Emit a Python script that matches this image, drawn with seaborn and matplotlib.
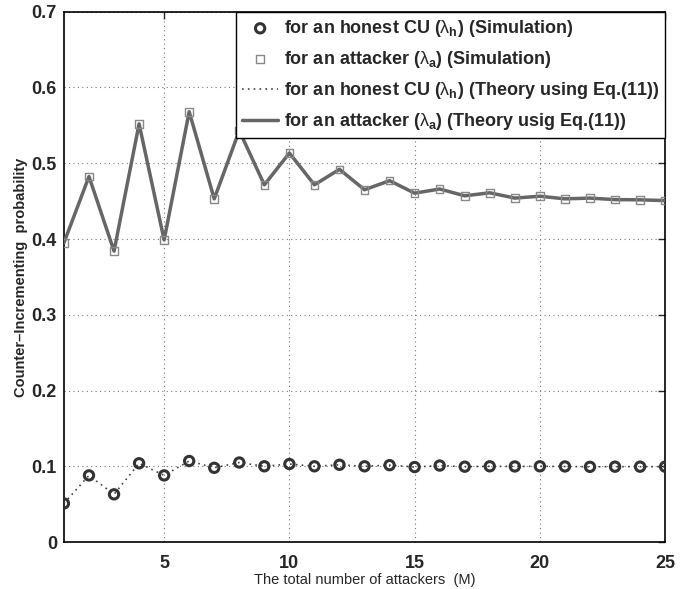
import numpy as np
import pandas as pd
import matplotlib
matplotlib.use("Agg")
import matplotlib.pyplot as plt
import seaborn as sns

# Data
M = list(range(1, 26))
attacker_sim = [0.395, 0.4825, 0.384, 0.552, 0.3987, 0.568, 0.453, 0.543, 0.4715, 0.5135,
                0.4715, 0.492, 0.465, 0.477, 0.4605, 0.466, 0.457, 0.461, 0.454, 0.4565,
                0.453, 0.454, 0.452, 0.4517, 0.4507]
attacker_theory = [0.395, 0.4825, 0.384, 0.552, 0.3987, 0.568, 0.453, 0.543, 0.4715, 0.5135,
                   0.4715, 0.492, 0.465, 0.477, 0.4605, 0.466, 0.457, 0.461, 0.454, 0.4565,
                   0.453, 0.454, 0.452, 0.4517, 0.4507]
honest_sim = [0.051, 0.088, 0.063, 0.104, 0.088, 0.107, 0.098, 0.105, 0.100, 0.103,
              0.100, 0.102, 0.100, 0.1015, 0.099, 0.101, 0.0995, 0.100, 0.0998, 0.100,
              0.0998, 0.0993, 0.0995, 0.0995, 0.0995]
honest_theory = [0.051, 0.088, 0.063, 0.104, 0.088, 0.107, 0.098, 0.105, 0.100, 0.103,
                 0.100, 0.102, 0.100, 0.1015, 0.099, 0.101, 0.0995, 0.100, 0.0998, 0.100,
                 0.0998, 0.0993, 0.0995, 0.0995, 0.0995]
xticks = [5, 10, 15, 20, 25]
yticks = [0, 0.1, 0.2, 0.3, 0.4, 0.5, 0.6, 0.7]
yticklabels = ["0", "0.1", "0.2", "0.3", "0.4", "0.5", "0.6", "0.7"]

labels = [r"for an honest CU ($\lambda_{\mathbf{h}}$) (Simulation)",
          r"for an attacker ($\lambda_{\mathbf{a}}$) (Simulation)",
          r"for an honest CU ($\lambda_{\mathbf{h}}$) (Theory using Eq.(11))",
          r"for an attacker ($\lambda_{\mathbf{a}}$) (Theory usig Eq.(11))"]

sns.set_style("white")
plt.rcParams["font.family"] = ["Liberation Sans", "DejaVu Sans"]
plt.rcParams["mathtext.fontset"] = "custom"
plt.rcParams["mathtext.rm"] = "Liberation Sans"
plt.rcParams["mathtext.bf"] = "Liberation Sans:bold"
plt.rcParams["mathtext.it"] = "Liberation Sans"

df = pd.DataFrame({"M": M, "att_sim": attacker_sim, "att_th": attacker_theory,
                   "hon_sim": honest_sim, "hon_th": honest_theory})

fig = plt.figure(figsize=(6.95, 5.89), dpi=100)
ax = fig.add_axes([0.092, 0.0797, 0.865, 0.9004])

sns.scatterplot(data=df, x="M", y="hon_sim", ax=ax, marker="o", s=45,
                facecolor="none", edgecolor="#333333", linewidth=2.2, label=labels[0], zorder=4)
sns.scatterplot(data=df, x="M", y="att_sim", ax=ax, marker="s", s=30,
                facecolor="none", edgecolor="#888888", linewidth=1.0, label=labels[1], zorder=4)
sns.lineplot(data=df, x="M", y="hon_th", ax=ax, color="#444444", linestyle=(0, (1, 2.5)),
             linewidth=1.2, label=labels[2], zorder=3)
sns.lineplot(data=df, x="M", y="att_th", ax=ax, color="#666666", linestyle="-",
             linewidth=2.5, label=labels[3], zorder=3)

ax.set_xlim(1, 25)
ax.set_ylim(0, 0.7)
ax.set_xticks(xticks)
ax.set_yticks(yticks)
ax.set_yticklabels(yticklabels)
ax.tick_params(axis="both", which="both", direction="in", top=True, right=True,
               length=5, width=1, labelsize=13)
ax.tick_params(axis="x", pad=9)
ax.tick_params(axis="y", pad=5)
for lab in ax.get_xticklabels() + ax.get_yticklabels():
    lab.set_fontweight("bold")
ax.grid(True, linestyle=(0, (1, 3)), color="#777777", linewidth=0.8)
for sp in ax.spines.values():
    sp.set_color("black")
    sp.set_linewidth(1.2)
    sp.set_visible(True)

ax.set_xlabel("The total number of attackers  (M)", fontsize=10.5, labelpad=1)
ax.set_ylabel("Counter\u2013Incrementing  probability", fontsize=10.5, fontweight="bold", labelpad=3)

leg = ax.legend(loc="upper right", borderaxespad=0, frameon=True, fancybox=False,
                prop={"weight": "bold", "size": 13}, handlelength=2.0, handletextpad=0.3,
                labelspacing=0.55, borderpad=0.35,
                edgecolor="black", framealpha=1)
leg.get_frame().set_linewidth(1.0)

fig.savefig("out.png", dpi=100)
